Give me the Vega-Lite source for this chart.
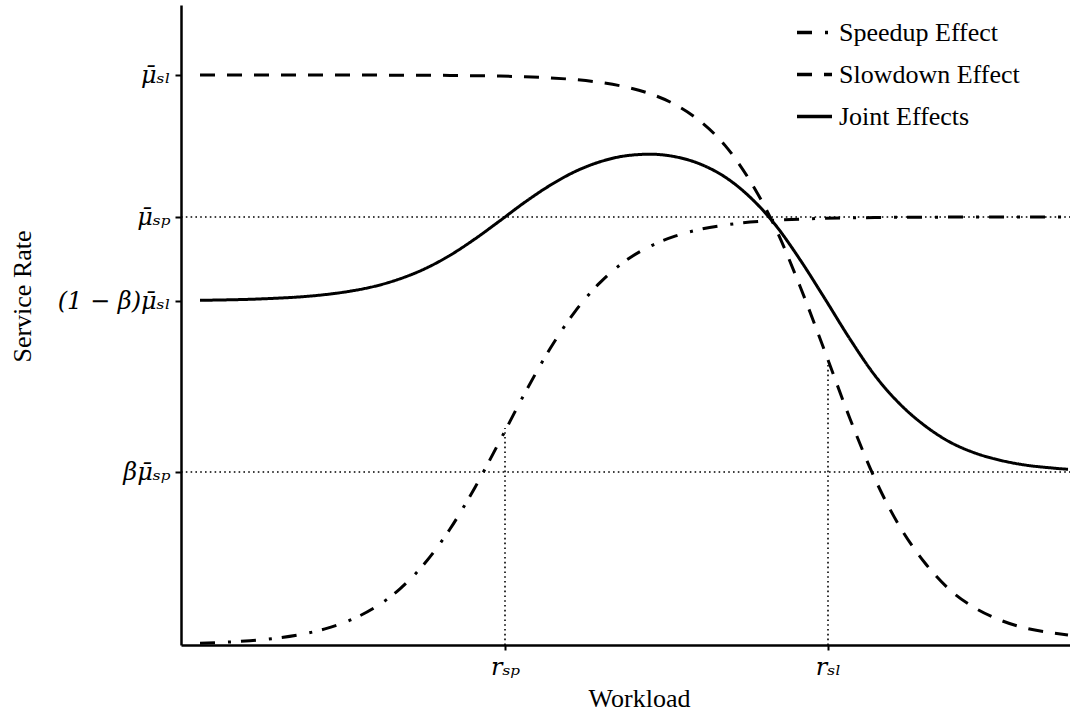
{
  "$schema": "https://vega.github.io/schema/vega-lite/v6.json",
  "width": 889,
  "height": 640,
  "autosize": {"type": "none"},
  "padding": {"left": 181, "top": 5, "right": 0, "bottom": 70},
  "background": "white",
  "config": {"view": {"stroke": null}},
  "datasets": {
    "curves": [
      {"x": 19, "y": 1.8, "series": "Speedup Effect"},
      {"x": 44, "y": 2.8, "series": "Speedup Effect"},
      {"x": 69, "y": 4.3, "series": "Speedup Effect"},
      {"x": 94, "y": 6.7, "series": "Speedup Effect"},
      {"x": 119, "y": 10.4, "series": "Speedup Effect"},
      {"x": 144, "y": 16.1, "series": "Speedup Effect"},
      {"x": 169, "y": 24.8, "series": "Speedup Effect"},
      {"x": 194, "y": 37.6, "series": "Speedup Effect"},
      {"x": 219, "y": 56.2, "series": "Speedup Effect"},
      {"x": 244, "y": 82.0, "series": "Speedup Effect"},
      {"x": 269, "y": 116.0, "series": "Speedup Effect"},
      {"x": 294, "y": 157.6, "series": "Speedup Effect"},
      {"x": 319, "y": 204.4, "series": "Speedup Effect"},
      {"x": 344, "y": 252.1, "series": "Speedup Effect"},
      {"x": 369, "y": 296.2, "series": "Speedup Effect"},
      {"x": 394, "y": 333.4, "series": "Speedup Effect"},
      {"x": 419, "y": 362.4, "series": "Speedup Effect"},
      {"x": 444, "y": 383.8, "series": "Speedup Effect"},
      {"x": 469, "y": 398.7, "series": "Speedup Effect"},
      {"x": 494, "y": 408.8, "series": "Speedup Effect"},
      {"x": 519, "y": 415.6, "series": "Speedup Effect"},
      {"x": 544, "y": 420.0, "series": "Speedup Effect"},
      {"x": 569, "y": 422.9, "series": "Speedup Effect"},
      {"x": 594, "y": 424.7, "series": "Speedup Effect"},
      {"x": 619, "y": 425.9, "series": "Speedup Effect"},
      {"x": 644, "y": 426.7, "series": "Speedup Effect"},
      {"x": 669, "y": 427.1, "series": "Speedup Effect"},
      {"x": 694, "y": 427.5, "series": "Speedup Effect"},
      {"x": 719, "y": 427.7, "series": "Speedup Effect"},
      {"x": 744, "y": 427.8, "series": "Speedup Effect"},
      {"x": 769, "y": 427.9, "series": "Speedup Effect"},
      {"x": 794, "y": 428, "series": "Speedup Effect"},
      {"x": 819, "y": 428, "series": "Speedup Effect"},
      {"x": 844, "y": 428, "series": "Speedup Effect"},
      {"x": 869, "y": 428, "series": "Speedup Effect"},
      {"x": 887, "y": 428, "series": "Speedup Effect"},
      {"x": 19, "y": 570, "series": "Slowdown Effect"},
      {"x": 44, "y": 570, "series": "Slowdown Effect"},
      {"x": 69, "y": 570, "series": "Slowdown Effect"},
      {"x": 94, "y": 570, "series": "Slowdown Effect"},
      {"x": 119, "y": 570, "series": "Slowdown Effect"},
      {"x": 144, "y": 570, "series": "Slowdown Effect"},
      {"x": 169, "y": 569.9, "series": "Slowdown Effect"},
      {"x": 194, "y": 569.9, "series": "Slowdown Effect"},
      {"x": 219, "y": 569.8, "series": "Slowdown Effect"},
      {"x": 244, "y": 569.7, "series": "Slowdown Effect"},
      {"x": 269, "y": 569.6, "series": "Slowdown Effect"},
      {"x": 294, "y": 569.3, "series": "Slowdown Effect"},
      {"x": 319, "y": 568.9, "series": "Slowdown Effect"},
      {"x": 344, "y": 568.2, "series": "Slowdown Effect"},
      {"x": 369, "y": 567.1, "series": "Slowdown Effect"},
      {"x": 394, "y": 565.4, "series": "Slowdown Effect"},
      {"x": 419, "y": 562.6, "series": "Slowdown Effect"},
      {"x": 444, "y": 558.2, "series": "Slowdown Effect"},
      {"x": 469, "y": 551.3, "series": "Slowdown Effect"},
      {"x": 494, "y": 540.5, "series": "Slowdown Effect"},
      {"x": 519, "y": 523.9, "series": "Slowdown Effect"},
      {"x": 544, "y": 499.6, "series": "Slowdown Effect"},
      {"x": 569, "y": 464.3, "series": "Slowdown Effect"},
      {"x": 594, "y": 417.9, "series": "Slowdown Effect"},
      {"x": 619, "y": 358.8, "series": "Slowdown Effect"},
      {"x": 644, "y": 293.1, "series": "Slowdown Effect"},
      {"x": 669, "y": 226.3, "series": "Slowdown Effect"},
      {"x": 694, "y": 166.0, "series": "Slowdown Effect"},
      {"x": 719, "y": 118.0, "series": "Slowdown Effect"},
      {"x": 744, "y": 82.0, "series": "Slowdown Effect"},
      {"x": 769, "y": 55.0, "series": "Slowdown Effect"},
      {"x": 794, "y": 37.0, "series": "Slowdown Effect"},
      {"x": 819, "y": 25.0, "series": "Slowdown Effect"},
      {"x": 844, "y": 17.0, "series": "Slowdown Effect"},
      {"x": 869, "y": 12.5, "series": "Slowdown Effect"},
      {"x": 887, "y": 10.0, "series": "Slowdown Effect"},
      {"x": 19, "y": 344.7, "series": "Joint Effects"},
      {"x": 44, "y": 345.1, "series": "Joint Effects"},
      {"x": 69, "y": 345.7, "series": "Joint Effects"},
      {"x": 94, "y": 346.7, "series": "Joint Effects"},
      {"x": 119, "y": 348.1, "series": "Joint Effects"},
      {"x": 144, "y": 350.4, "series": "Joint Effects"},
      {"x": 169, "y": 353.8, "series": "Joint Effects"},
      {"x": 194, "y": 358.8, "series": "Joint Effects"},
      {"x": 219, "y": 366.2, "series": "Joint Effects"},
      {"x": 244, "y": 376.3, "series": "Joint Effects"},
      {"x": 269, "y": 389.7, "series": "Joint Effects"},
      {"x": 294, "y": 406.1, "series": "Joint Effects"},
      {"x": 319, "y": 424.3, "series": "Joint Effects"},
      {"x": 344, "y": 442.9, "series": "Joint Effects"},
      {"x": 369, "y": 459.6, "series": "Joint Effects"},
      {"x": 394, "y": 473.4, "series": "Joint Effects"},
      {"x": 419, "y": 483.2, "series": "Joint Effects"},
      {"x": 444, "y": 489.1, "series": "Joint Effects"},
      {"x": 469, "y": 490.8, "series": "Joint Effects"},
      {"x": 494, "y": 488.3, "series": "Joint Effects"},
      {"x": 519, "y": 481.0, "series": "Joint Effects"},
      {"x": 544, "y": 468.0, "series": "Joint Effects"},
      {"x": 569, "y": 447.9, "series": "Joint Effects"},
      {"x": 594, "y": 420.6, "series": "Joint Effects"},
      {"x": 619, "y": 385.4, "series": "Joint Effects"},
      {"x": 644, "y": 346.1, "series": "Joint Effects"},
      {"x": 669, "y": 305.9, "series": "Joint Effects"},
      {"x": 694, "y": 269.4, "series": "Joint Effects"},
      {"x": 719, "y": 240.9, "series": "Joint Effects"},
      {"x": 744, "y": 219.2, "series": "Joint Effects"},
      {"x": 769, "y": 202.9, "series": "Joint Effects"},
      {"x": 794, "y": 192.0, "series": "Joint Effects"},
      {"x": 819, "y": 184.8, "series": "Joint Effects"},
      {"x": 844, "y": 180.0, "series": "Joint Effects"},
      {"x": 869, "y": 177.2, "series": "Joint Effects"},
      {"x": 887, "y": 175.7, "series": "Joint Effects"}
    ],
    "guides": [
      {"x": 0, "x2": 889, "y": 428, "y2": 428},
      {"x": 0, "x2": 889, "y": 173, "y2": 173},
      {"x": 324, "x2": 324, "y": 0, "y2": 217},
      {"x": 647, "x2": 647, "y": 0, "y2": 280}
    ]
  },
  "layer": [
    {
      "data": {"name": "curves"},
      "mark": {"type": "line", "color": "black", "strokeWidth": 3, "strokeCap": "butt", "interpolate": "monotone"},
      "encoding": {
        "x": {
          "field": "x", "type": "quantitative", "title": "Workload",
          "scale": {"domain": [0, 889], "nice": false, "zero": false},
          "axis": {
            "title": "Workload",
            "values": [324, 647],
            "labelExpr": "datum.value == 324 ? 'r\u209b\u209a' : 'r\u209b\u2097'",
            "domainColor": "black", "domainWidth": 2.5,
            "tickColor": "black", "tickWidth": 2, "tickSize": 5,
            "grid": false,
            "labelFont": "DejaVu Serif", "labelFontStyle": "italic", "labelFontSize": 24, "labelColor": "black", "labelPadding": 5,
            "titleFont": "Liberation Serif", "titleFontSize": 26, "titleFontWeight": "normal", "titleColor": "black",
            "titleX": 458, "titleY": 61, "titleBaseline": "alphabetic"
          }
        },
        "y": {
          "field": "y", "type": "quantitative", "title": "Service Rate",
          "scale": {"domain": [0, 640], "nice": false, "zero": false},
          "axis": {
            "title": "Service Rate",
            "values": [570, 428, 344, 173],
            "labelExpr": "datum.value == 570 ? '\u03bc\u0304\u209b\u2097' : datum.value == 428 ? '\u03bc\u0304\u209b\u209a' : datum.value == 344 ? '(1 \u2212 \u03b2)\u03bc\u0304\u209b\u2097' : '\u03b2\u03bc\u0304\u209b\u209a'",
            "domainColor": "black", "domainWidth": 2.5,
            "tickColor": "black", "tickWidth": 2, "tickSize": 6,
            "grid": false,
            "labelFont": "DejaVu Serif", "labelFontStyle": "italic", "labelFontSize": 24, "labelColor": "black", "labelPadding": 5,
            "titleFont": "Liberation Serif", "titleFontSize": 26, "titleFontWeight": "normal", "titleColor": "black",
            "titleX": -159, "titleY": 291, "titleAngle": -90, "titleBaseline": "middle", "titleAlign": "center"
          }
        },
        "strokeDash": {
          "field": "series", "type": "nominal",
          "scale": {
            "domain": ["Speedup Effect", "Slowdown Effect", "Joint Effects"],
            "range": [[15, 13, 3, 10], [15, 12], [1, 0]]
          },
          "legend": {
            "title": null,
            "orient": "none",
            "legendX": 614,
            "legendY": 8,
            "symbolType": "stroke",
            "symbolSize": 1225,
            "symbolStrokeWidth": 3.5,
            "symbolStrokeColor": "black",
            "labelFont": "Liberation Serif",
            "labelFontSize": 26,
            "labelColor": "black",
            "labelLimit": 400,
            "labelOffset": 5,
            "rowPadding": 9,
            "padding": 0
          }
        }
      }
    },
    {
      "data": {"name": "guides"},
      "mark": {"type": "rule", "color": "black", "strokeWidth": 1.6, "strokeDash": [1.6, 3.2]},
      "encoding": {
        "x": {"field": "x", "type": "quantitative", "title": "Workload"},
        "x2": {"field": "x2"},
        "y": {"field": "y", "type": "quantitative", "title": "Service Rate"},
        "y2": {"field": "y2"}
      }
    }
  ]
}
